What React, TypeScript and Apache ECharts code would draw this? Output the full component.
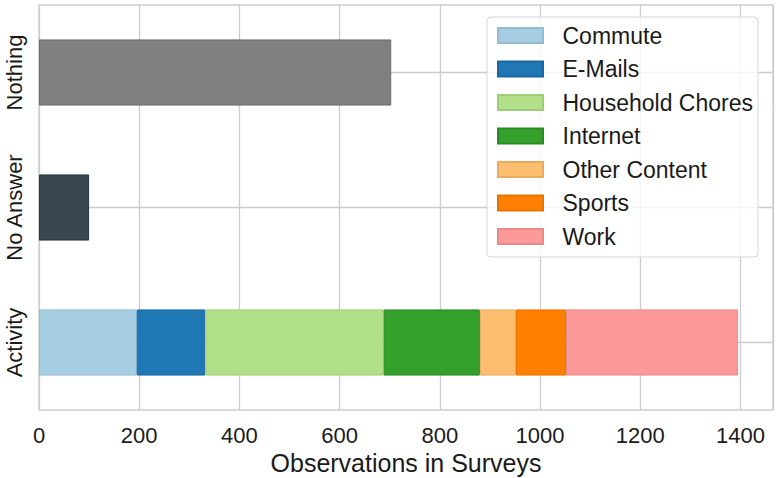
import React, { useEffect, useRef } from "react";
import * as echarts from "echarts";

const categories = ["Activity", "No Answer", "Nothing"];
const activityNames = ["Commute", "E-Mails", "Household Chores", "Internet", "Other Content", "Sports", "Work"];
const activityValues = [195, 137, 356, 192, 72, 100, 343];
const activityColors = ["#a6cee3", "#1f78b4", "#b2df8a", "#33a02c", "#fdbf6f", "#ff7f00", "#fb9a99"];
const activityBorders = ["#95bdd2", "#1a67a0", "#a0cc7a", "#2a8a24", "#e8ab5f", "#e87300", "#e8898a"];
const noAnswerValue = 100;
const nothingValue = 703;
const xTicks = [0, 200, 400, 600, 800, 1000, 1200, 1400];

const FONT = "'Liberation Sans', Arial, sans-serif";

export default function App() {
  const ref = useRef<HTMLDivElement>(null);
  useEffect(() => {
    if (!ref.current) return;
    const chart = echarts.init(ref.current, undefined, { renderer: "svg" });
    const series: any[] = activityNames.map((name, i) => ({
      name,
      type: "bar",
      stack: "total",
      barWidth: "49%",
      data: categories.map((c) => (c === "Activity" ? activityValues[i] : "-")),
      itemStyle: { color: activityColors[i], borderColor: activityBorders[i], borderWidth: 1 },
    }));
    series.push({
      name: "No Answer",
      type: "bar",
      stack: "total",
      barWidth: "49%",
      data: categories.map((c) => (c === "No Answer" ? noAnswerValue : "-")),
      itemStyle: { color: "#37464f", borderColor: "#27343c", borderWidth: 1 },
    });
    series.push({
      name: "Nothing",
      type: "bar",
      stack: "total",
      barWidth: "49%",
      data: categories.map((c) => (c === "Nothing" ? nothingValue : "-")),
      itemStyle: { color: "#808080", borderColor: "#6c6c6c", borderWidth: 1 },
    });
    chart.setOption({
      animation: false,
      textStyle: { fontFamily: FONT },
      grid: {
        left: 39,
        right: 7,
        top: 5,
        bottom: 68,
        show: true,
        borderColor: "#cccccc",
        borderWidth: 1.3,
        outerBoundsMode: "none",
        containLabel: false,
      },
      legend: {
        data: activityNames,
        orient: "vertical",
        left: 487,
        top: 17,
        padding: [7, 5, 9, 10],
        itemWidth: 45,
        itemHeight: 15,
        itemGap: 10.5,
        icon: "rect",
        backgroundColor: "rgba(255,255,255,0.8)",
        borderColor: "#d5d5d5",
        borderWidth: 1,
        borderRadius: 4,
        textStyle: { fontSize: 23, color: "#1a1a1a", fontFamily: FONT, lineHeight: 22, padding: [0, 0, 0, 14.5] },
      },
      xAxis: {
        type: "value",
        min: 0,
        max: 1465,
        interval: 200,
        name: "Observations in Surveys",
        nameLocation: "middle",
        nameGap: 36,
        nameTextStyle: { fontSize: 25, color: "#1a1a1a", fontFamily: FONT },
        axisLine: { show: false },
        axisTick: { show: false },
        axisLabel: {
          fontSize: 22,
          color: "#1a1a1a",
          margin: 14,
          showMaxLabel: false,
          formatter: (v: number) => (xTicks.includes(v) ? String(v) : ""),
        },
        splitLine: { show: true, lineStyle: { color: "#cccccc", width: 1.3 } },
      },
      yAxis: {
        type: "category",
        data: categories,
        axisLine: { show: false },
        axisTick: { show: false },
        axisLabel: { fontSize: 22, color: "#1a1a1a", rotate: 90, margin: 14, interval: 0, hideOverlap: false },
        splitLine: { show: true, alignWithLabel: true, lineStyle: { color: "#cccccc", width: 1.3 } },
      },
      series,
    });
    return () => chart.dispose();
  }, []);
  return <div ref={ref} style={{ width: 780, height: 478, position: "absolute", left: 0, top: 0 }} />;
}
